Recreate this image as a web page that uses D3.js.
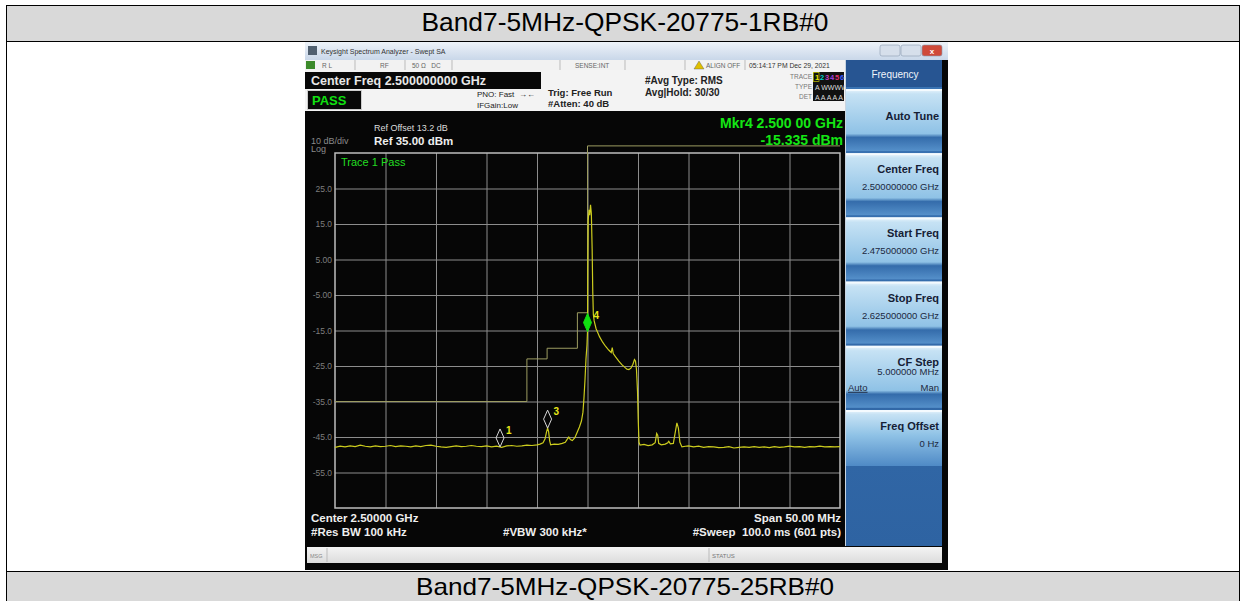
<!DOCTYPE html>
<html>
<head>
<meta charset="utf-8">
<script src="https://cdn.jsdelivr.net/npm/d3@7"></script>
<style>
html, body { margin: 0; padding: 0; background: #fff; }
svg { display: block; font-family: "Liberation Sans", Arial, sans-serif; }
</style>
</head>
<body>
<script>
// ---- data ----
const rowTitles = ['Band7-5MHz-QPSK-20775-1RB#0', 'Band7-5MHz-QPSK-20775-25RB#0'];

const yTickValues = [25, 15, 5, -5, -15, -25, -35, -45, -55];
const yTickLabels = ['25.0', '15.0', '5.00', '-5.00', '-15.0', '-25.0', '-35.0', '-45.0', '-55.0'];
const xGridValues = [-20, -15, -10, -5, 0, 5, 10, 15, 20];

// trace 1, frequency offset from centre (MHz) and level (dBm)
const traceFreq = [
  -25, -24.5, -24, -23.5, -23, -22.5, -22, -21.5, -21, -20.5, -20, -19.5, -19, -18.5, -18,
  -17.5, -17, -16.5, -16, -15.5, -15, -14.5, -14, -13.5, -13, -12.5, -12, -11.5, -11, -10.5,
  -10, -9.5, -9, -8.5, -8, -7.5, -7, -6.5, -6, -5.5, -5, -4.7, -4.4, -4.2, -4.05, -3.95,
  -3.85, -3.75, -3.65, -3.3, -2.9, -2.5, -2.2, -2.0, -1.85, -1.7, -1.5, -1.25, -1.0, -0.8,
  -0.6, -0.45, -0.35, -0.25, -0.15, -0.05, 0, 0.03, 0.07, 0.15, 0.22, 0.3, 0.38, 0.46, 0.52,
  0.58, 0.66, 0.85, 1.0, 1.2, 1.5, 1.8, 2.1, 2.35, 2.45, 2.55, 2.8, 3.1, 3.4, 3.7, 3.9, 4.1,
  4.3, 4.5, 4.65, 4.75, 4.85, 4.95, 5.02, 5.1, 5.2, 5.6, 6.0, 6.4, 6.7, 6.85, 6.95, 7.05,
  7.3, 7.7, 7.95, 8.05, 8.2, 8.5, 8.7, 8.85, 9.0, 9.15, 9.35, 9.7, 10, 10.5, 11, 11.5, 12,
  12.5, 13, 13.5, 14, 14.5, 15, 15.5, 16, 16.5, 17, 17.5, 18, 18.5, 19, 19.5, 20, 20.5, 21,
  21.5, 22, 22.5, 23, 23.5, 24, 24.5, 25
];
const traceLevel = [
  -47.9, -47.6, -47.8, -47.5, -47.7, -47.3, -47.6, -47.8, -47.5, -47.7, -47.6, -47.4, -47.7, -47.5, -47.6,
  -47.8, -47.5, -47.7, -47.4, -47.3, -47.6, -47.8, -47.9, -47.7, -47.5, -47.7, -47.6, -47.4, -47.6, -47.7,
  -47.5, -47.8, -47.6, -47.9, -47.5, -47.4, -47.6, -47.5, -47.3, -47.4, -47.2, -47.0, -46.6, -45.5, -43.5, -42.5,
  -43.5, -46.0, -47.2, -47.0, -47.1, -46.8, -46.5, -45.6, -45.0, -45.7, -46.0, -45.2, -43.5, -42.2,
  -40.5, -38, -34, -29, -23, -19, -15.3, 2, 16, 19, 17.5, 20.4, 18, 8, -4,
  -10.5, -12.3, -14.5, -15.5, -16.8, -18.3, -19.5, -20.5, -21.2, -19.8, -21.5, -22.5, -23.6, -24.6, -25.4, -25.9, -26.0,
  -25.6, -24.5, -23.2, -23.6, -26, -32, -40, -46.5, -47.3, -47.1, -47.4, -47.2, -46.6, -44.0, -44.5, -46.8,
  -47.2, -47.0, -46.6, -46.2, -46.9, -46.8, -43.5, -41.0, -42.5, -46.5, -47.8, -47.6, -47.5, -47.8, -47.6, -47.9, -47.7,
  -47.8, -48.0, -47.9, -47.7, -48.1, -47.9, -47.8, -47.9, -47.7, -47.9, -47.8, -48.0, -47.7, -47.9, -47.8, -47.6, -47.8, -47.7,
  -47.9, -47.7, -47.8, -47.6, -47.8, -47.7, -47.8, -47.7
];

// emission mask limit line
const maskFreq = [-25, -6, -6, -4, -4, -1, -1, 0, 0, 25];
const maskLevel = [-35, -35, -23, -23, -20, -20, -10, -10, 37, 37];

// markers
const markerIds = ['1', '3', '4'];
const markerFreq = [-8.66, -3.95, 0];
const markerLevel = [-47.8, -42.5, -15.3];
const markerActive = [false, false, true];

// softkeys
const softkeyLabels = ['Auto Tune', 'Center Freq', 'Start Freq', 'Stop Freq', 'CF Step', 'Freq Offset'];
const softkeyValues = ['', '2.500000000 GHz', '2.475000000 GHz', '2.625000000 GHz', '5.000000 MHz', '0 Hz'];

// ---- drawing ----
const W = 1245, H = 601;
const svg = d3.select('body').append('svg').attr('width', W).attr('height', H);
const defs = svg.append('defs');

function vGrad(id, stops) {
  const g = defs.append('linearGradient').attr('id', id)
    .attr('x1', 0).attr('y1', 0).attr('x2', 0).attr('y2', 1);
  stops.forEach(s => g.append('stop').attr('offset', s[0]).attr('stop-color', s[1]));
}
vGrad('titleGrad', [[0, '#eef3f9'], [1, '#c9d7e9']]);
vGrad('keyGrad', [[0, '#eaf5fc'], [0.08, '#c6e2f4'], [0.72, '#8fc2e6'], [0.78, '#346cab'], [1, '#5590ca']]);
vGrad('lastKeyGrad', [[0, '#eaf5fc'], [0.08, '#c6e2f4'], [0.45, '#8fc2e6'], [1, '#4f8ac6']]);
vGrad('panelGrad', [[0, '#3a74b4'], [1, '#2e63a2']]);
vGrad('barGrad', [[0, '#f4f4f4'], [1, '#dcdcdc']]);

// table frame
svg.append('rect').attr('x', 6.5).attr('y', 5.5).attr('width', 1233).attr('height', 36)
  .attr('fill', '#d9d9d9').attr('stroke', '#000');
svg.append('rect').attr('x', 6.5).attr('y', 41.5).attr('width', 1233).attr('height', 530)
  .attr('fill', '#fff').attr('stroke', '#000');
svg.append('rect').attr('x', 6.5).attr('y', 571.5).attr('width', 1233).attr('height', 40)
  .attr('fill', '#d9d9d9').attr('stroke', '#000');
svg.selectAll('text.rowTitle').data(rowTitles).enter().append('text')
  .attr('class', 'rowTitle')
  .attr('x', 625).attr('y', (d, i) => i === 0 ? 31 : 595)
  .attr('text-anchor', 'middle').attr('font-size', (d, i) => i === 0 ? 26 : 24).attr('fill', '#000')
  .attr('textLength', (d, i) => i === 0 ? 407 : 418).attr('lengthAdjust', 'spacingAndGlyphs')
  .text(d => d);

// analyzer window
svg.append('rect').attr('x', 305).attr('y', 42).attr('width', 643).attr('height', 528).attr('fill', '#060606');
svg.append('rect').attr('x', 305).attr('y', 42).attr('width', 643).attr('height', 18).attr('fill', 'url(#titleGrad)');
svg.append('rect').attr('x', 308).attr('y', 46).attr('width', 9).attr('height', 9).attr('fill', '#506070');
svg.append('text').attr('x', 321).attr('y', 54).attr('font-size', 7).attr('fill', '#333')
  .text('Keysight Spectrum Analyzer - Swept SA');
[[880, '#d6dfeb'], [901, '#d6dfeb'], [922, '#cf4a3a']].forEach(b => {
  svg.append('rect').attr('x', b[0]).attr('y', 45).attr('width', 20).attr('height', 11).attr('rx', 2)
    .attr('fill', b[1]).attr('stroke', '#8a9ab0').attr('stroke-width', 0.6);
});
svg.append('text').attr('x', 932).attr('y', 54).attr('text-anchor', 'middle').attr('font-size', 8)
  .attr('font-weight', 'bold').attr('fill', '#fff').text('x');

// status row
svg.append('rect').attr('x', 305).attr('y', 60).attr('width', 540).attr('height', 10).attr('fill', '#f2f2f2');
[355, 405, 452, 560, 625, 685, 745].forEach(sx => {
  svg.append('line').attr('x1', sx).attr('x2', sx).attr('y1', 60).attr('y2', 70).attr('stroke', '#bbb');
});
svg.append('rect').attr('x', 306).attr('y', 61).attr('width', 9).attr('height', 8).attr('fill', '#3c8a2a');
const statusTexts = [[322, 'R L'], [380, 'RF'], [412, '50 \u03a9   DC'], [575, 'SENSE:INT'], [706, 'ALIGN OFF']];
statusTexts.forEach(t => svg.append('text').attr('x', t[0]).attr('y', 68).attr('font-size', 6.5)
  .attr('fill', '#666').attr('xml:space', 'preserve').text(t[1]));
svg.append('path').attr('d', 'M699,61 L704,69 L694,69 Z').attr('fill', '#e0c000').attr('stroke', '#555').attr('stroke-width', 0.4);
svg.append('text').attr('x', 749).attr('y', 68).attr('font-size', 6.8).attr('fill', '#333')
  .text('05:14:17 PM Dec 29, 2021');

// info area
svg.append('rect').attr('x', 305).attr('y', 70).attr('width', 540).attr('height', 41).attr('fill', '#f3f3f3');
svg.append('rect').attr('x', 305).attr('y', 72).attr('width', 236).attr('height', 17).attr('fill', '#080808');
svg.append('text').attr('x', 311).attr('y', 85).attr('font-size', 12.5).attr('font-weight', 'bold')
  .attr('fill', '#e8e8e8').text('Center Freq 2.500000000 GHz');
svg.append('rect').attr('x', 307.5).attr('y', 90.5).attr('width', 54).attr('height', 19)
  .attr('fill', '#080808').attr('stroke', '#ccc');
svg.append('text').attr('x', 312).attr('y', 105).attr('font-size', 13).attr('font-weight', 'bold')
  .attr('fill', '#10e010').text('PASS');
const infoTexts = [
  [477, 97, 8, 'normal', 'PNO: Fast'], [477, 108, 8, 'normal', 'IFGain:Low'],
  [548, 96, 9.5, 'bold', 'Trig: Free Run'], [548, 107, 9.5, 'bold', '#Atten: 40 dB'],
  [645, 84, 10, 'bold', '#Avg Type: RMS'], [645, 96, 10, 'bold', 'Avg|Hold: 30/30']
];
infoTexts.forEach(t => svg.append('text').attr('x', t[0]).attr('y', t[1]).attr('font-size', t[2])
  .attr('font-weight', t[3]).attr('fill', '#222').text(t[4]));
svg.append('text').attr('x', 519).attr('y', 97).attr('font-size', 8).attr('fill', '#222').text('\u2192\u2190');
[['TRACE', 79], ['TYPE', 89], ['DET', 99]].forEach(t => svg.append('text').attr('x', 812).attr('y', t[1])
  .attr('text-anchor', 'end').attr('font-size', 6.5).attr('fill', '#777').text(t[0]));
svg.append('rect').attr('x', 813).attr('y', 72).attr('width', 31).attr('height', 29).attr('fill', '#111');
const traceNumColors = ['#e8e800', '#00d0c8', '#c040c0', '#a040e0', '#e03070', '#4060ff'];
traceNumColors.forEach((c, i) => svg.append('text').attr('x', 815 + i * 5).attr('y', 80)
  .attr('font-size', 7.5).attr('font-weight', 'bold').attr('fill', c).text(i + 1));
svg.append('rect').attr('x', 813.5).attr('y', 72.5).attr('width', 5.5).attr('height', 9)
  .attr('fill', 'none').attr('stroke', '#e8e800').attr('stroke-width', 0.6);
svg.append('text').attr('x', 815).attr('y', 90).attr('font-size', 7).attr('fill', '#ddd').text('A WWWWW');
svg.append('text').attr('x', 815).attr('y', 99.5).attr('font-size', 7).attr('fill', '#ddd').text('A A A A A A');

// display header texts
svg.append('text').attr('x', 374).attr('y', 131).attr('font-size', 9).attr('fill', '#ddd').text('Ref Offset 13.2 dB');
svg.append('text').attr('x', 374).attr('y', 145).attr('font-size', 11.5).attr('font-weight', 'bold')
  .attr('fill', '#eee').text('Ref 35.00 dBm');
svg.append('text').attr('x', 311).attr('y', 144).attr('font-size', 9).attr('fill', '#8a8a8a').text('10 dB/div');
svg.append('text').attr('x', 311).attr('y', 152).attr('font-size', 9).attr('fill', '#8a8a8a').text('Log');
svg.append('text').attr('x', 843).attr('y', 128).attr('text-anchor', 'end').attr('font-size', 14)
  .attr('font-weight', 'bold').attr('fill', '#14e614').text('Mkr4 2.500 00 GHz');
svg.append('text').attr('x', 843).attr('y', 145).attr('text-anchor', 'end').attr('font-size', 14)
  .attr('font-weight', 'bold').attr('fill', '#14e614').text('-15.335 dBm');

// plot scales
const plotL = 335, plotR = 840, plotT = 153, plotB = 508;
const x = d3.scaleLinear().domain([-25, 25]).range([plotL, plotR]);
const y = d3.scaleLinear().domain([-65, 35]).range([plotB, plotT]);

const grid = svg.append('g');
grid.append('g').attr('transform', `translate(0,${plotB})`)
  .call(d3.axisBottom(x).tickValues(xGridValues).tickSize(-(plotB - plotT)).tickFormat(''))
  .call(g => g.select('.domain').remove())
  .call(g => g.selectAll('line').attr('stroke', '#8c8c8c').attr('stroke-width', 1));
grid.append('g').attr('transform', `translate(${plotL},0)`)
  .call(d3.axisLeft(y).tickValues(yTickValues).tickSize(-(plotR - plotL))
    .tickFormat((d, i) => yTickLabels[i]).tickPadding(3))
  .call(g => g.select('.domain').remove())
  .call(g => g.selectAll('line').attr('stroke', '#8c8c8c').attr('stroke-width', 1))
  .call(g => g.selectAll('text').attr('fill', '#7e7e7e').attr('font-size', 8.5)
    .attr('font-family', '"Liberation Sans", Arial, sans-serif'));
svg.append('rect').attr('x', plotL).attr('y', plotT).attr('width', plotR - plotL).attr('height', plotB - plotT)
  .attr('fill', 'none').attr('stroke', '#bdbdbd').attr('stroke-width', 1.5);

svg.append('text').attr('x', 341).attr('y', 166).attr('font-size', 11).attr('fill', '#22dd22').text('Trace 1 Pass');

// limit line
const maskPts = maskFreq.map((f, i) => [f, maskLevel[i]]);
svg.append('path').datum(maskPts)
  .attr('d', d3.line().x(d => x(d[0])).y(d => y(d[1])))
  .attr('fill', 'none').attr('stroke', '#9c9c62').attr('stroke-width', 1);

// trace
defs.append('clipPath').attr('id', 'plotClip').append('rect')
  .attr('x', plotL).attr('y', plotT).attr('width', plotR - plotL).attr('height', plotB - plotT);
const tracePts = traceFreq.map((f, i) => [f, traceLevel[i]]);
svg.append('path').datum(tracePts).attr('clip-path', 'url(#plotClip)')
  .attr('d', d3.line().x(d => x(d[0])).y(d => y(d[1])))
  .attr('fill', 'none').attr('stroke', '#cccc1e').attr('stroke-width', 1.2);

// markers
markerIds.forEach((id, i) => {
  const mx = x(markerFreq[i]), my = y(markerLevel[i]);
  const act = markerActive[i];
  svg.append('path')
    .attr('d', `M${mx},${my} L${mx + 4},${my - 9} L${mx},${my - 18} L${mx - 4},${my - 9} Z`)
    .attr('fill', act ? '#10e010' : 'none')
    .attr('stroke', act ? '#10e010' : '#d8d8d8').attr('stroke-width', 1);
  svg.append('text').attr('x', mx + 6).attr('y', my - 13).attr('font-size', 10).attr('font-weight', 'bold')
    .attr('fill', '#e6e61a').text(id);
});

// bottom annotation
const footTexts = [
  [311, 522, 'start', 'Center 2.50000 GHz'], [311, 536, 'start', '#Res BW 100 kHz'],
  [503, 536, 'start', '#VBW 300 kHz*'], [841, 522, 'end', 'Span 50.00 MHz'],
  [841, 536, 'end', '#Sweep  100.0 ms (601 pts)']
];
footTexts.forEach(t => svg.append('text').attr('x', t[0]).attr('y', t[1]).attr('text-anchor', t[2])
  .attr('font-size', 11.5).attr('font-weight', 'bold').attr('fill', '#eee')
  .attr('xml:space', 'preserve').text(t[3]));

// msg / status bar
svg.append('rect').attr('x', 307).attr('y', 547).attr('width', 635).attr('height', 16).attr('fill', 'url(#barGrad)');
svg.append('line').attr('x1', 327).attr('x2', 327).attr('y1', 548).attr('y2', 562).attr('stroke', '#bbb');
svg.append('line').attr('x1', 709).attr('x2', 709).attr('y1', 548).attr('y2', 562).attr('stroke', '#bbb');
svg.append('text').attr('x', 310).attr('y', 558).attr('font-size', 5.5).attr('fill', '#888').text('MSG');
svg.append('text').attr('x', 712).attr('y', 558).attr('font-size', 6).attr('fill', '#777').text('STATUS');

// softkey panel
svg.append('rect').attr('x', 845).attr('y', 60).attr('width', 97).attr('height', 486).attr('fill', 'url(#panelGrad)');
svg.append('line').attr('x1', 845.5).attr('x2', 845.5).attr('y1', 60).attr('y2', 546).attr('stroke', '#c8d4e0');
svg.append('rect').attr('x', 846).attr('y', 60).attr('width', 96).attr('height', 27).attr('fill', '#275592');
svg.append('text').attr('x', 895).attr('y', 78).attr('text-anchor', 'middle').attr('font-size', 10)
  .attr('fill', '#f0f4fa').text('Frequency');

const keyTop = d3.scaleLinear().domain([0, 5]).range([89, 410]);
softkeyLabels.forEach((lab, i) => {
  const ty = keyTop(i);
  const last = i === softkeyLabels.length - 1;
  svg.append('rect').attr('x', 846).attr('y', ty).attr('width', 96).attr('height', last ? 56 : 62)
    .attr('fill', last ? 'url(#lastKeyGrad)' : 'url(#keyGrad)');
  svg.append('rect').attr('x', 846).attr('y', ty).attr('width', 96).attr('height', 2).attr('fill', '#f4fafe');
  const single = softkeyValues[i] === '';
  svg.append('text').attr('x', 939).attr('y', single ? ty + 31 : ty + 20).attr('text-anchor', 'end')
    .attr('font-size', 11).attr('font-weight', 'bold').attr('fill', '#152035').text(lab);
  if (!single) {
    svg.append('text').attr('x', 939).attr('y', lab === 'CF Step' ? ty + 29 : ty + 37).attr('text-anchor', 'end')
      .attr('font-size', 9.5).attr('fill', '#1c2840').text(softkeyValues[i]);
  }
  if (lab === 'CF Step') {
    svg.append('text').attr('x', 848).attr('y', ty + 45).attr('font-size', 9.5).attr('fill', '#1c2840')
      .attr('text-decoration', 'underline').text('Auto');
    svg.append('text').attr('x', 939).attr('y', ty + 45).attr('text-anchor', 'end').attr('font-size', 9.5)
      .attr('fill', '#1c2840').text('Man');
  }
});
</script>
</body>
</html>
